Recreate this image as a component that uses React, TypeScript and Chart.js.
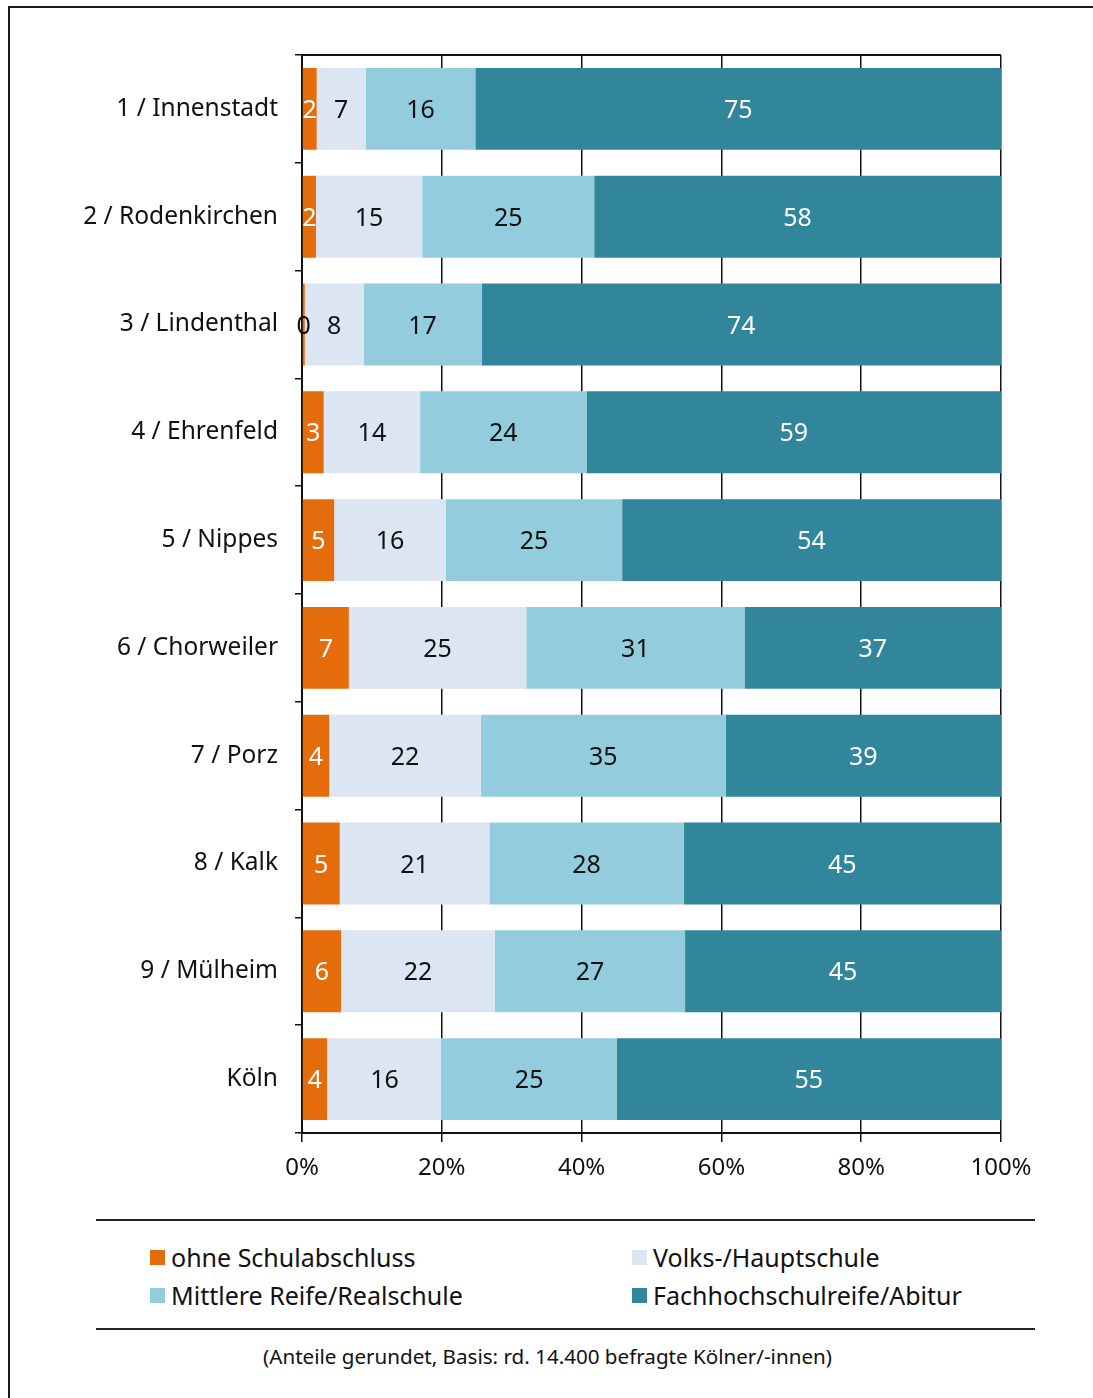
import React, { useEffect, useRef } from "react";
import { Chart, registerables } from "chart.js";
Chart.register(...registerables);

const categories = [
  "1 / Innenstadt",
  "2 / Rodenkirchen",
  "3 / Lindenthal",
  "4 / Ehrenfeld",
  "5 / Nippes",
  "6 / Chorweiler",
  "7 / Porz",
  "8 / Kalk",
  "9 / Mülheim",
  "Köln",
];
const seriesNames = [
  "ohne Schulabschluss",
  "Volks-/Hauptschule",
  "Mittlere Reife/Realschule",
  "Fachhochschulreife/Abitur",
];
const ohne = [2.1, 2.0, 0.4, 3.1, 4.6, 6.7, 3.9, 5.4, 5.6, 3.6];
const volks = [7.0, 15.2, 8.4, 13.8, 16.0, 25.4, 21.7, 21.4, 22.0, 16.4];
const mittlere = [15.7, 24.6, 16.9, 23.8, 25.2, 31.2, 35.0, 27.8, 27.2, 25.0];
const fach = [75.2, 58.2, 74.3, 59.3, 54.2, 36.7, 39.4, 45.4, 45.2, 55.0];
const xTicks = [0, 20, 40, 60, 80, 100];

const colors = ["#E46C0A", "#DCE6F2", "#93CDDD", "#31869B"];
const labelColors = ["#ffffff", "#111111", "#111111", "#ffffff"];
const FONT = "'Noto Sans', sans-serif";

const valueLabels = {
  id: "valueLabels",
  afterDatasetsDraw(chart: any) {
    const ctx = chart.ctx;
    ctx.save();
    ctx.font = `25px ${FONT}`;
    ctx.textAlign = "center";
    ctx.textBaseline = "middle";
    chart.data.datasets.forEach((ds: any, di: number) => {
      const meta = chart.getDatasetMeta(di);
      meta.data.forEach((bar: any, i: number) => {
        const v = ds.data[i];
        const x = (bar.x + bar.base) / 2;
        ctx.fillStyle = v < 1 ? "#111111" : labelColors[di];
        ctx.fillText(String(Math.round(v)), x, bar.y + 2);
      });
    });
    const a = chart.chartArea;
    ctx.strokeStyle = "#111";
    ctx.lineWidth = 2;
    ctx.beginPath();
    ctx.moveTo(a.left, a.top);
    ctx.lineTo(a.right, a.top);
    ctx.stroke();
    ctx.restore();
  },
};

export default function App() {
  const ref = useRef<HTMLCanvasElement | null>(null);
  useEffect(() => {
    if (!ref.current) return;
    const data = [ohne, volks, mittlere, fach];
    const chart = new Chart(ref.current, {
      type: "bar",
      data: {
        labels: categories,
        datasets: data.map((d, i) => ({
          label: seriesNames[i],
          data: d,
          backgroundColor: colors[i],
          borderWidth: 0,
          categoryPercentage: 1,
          barPercentage: 0.76,
        })),
      },
      options: {
        indexAxis: "y",
        animation: false,
        responsive: false,
        layout: { padding: { top: 55, right: 92, left: 0, bottom: 0 } },
        plugins: { legend: { display: false }, tooltip: { enabled: false } },
        scales: {
          x: {
            stacked: true,
            min: 0,
            max: 100,
            afterBuildTicks: (scale: any) => {
              scale.ticks = xTicks.map((v) => ({ value: v }));
            },
            afterFit: (scale: any) => {
              scale.height = 67;
            },
            ticks: {
              callback: (v: any) => v + "%",
              color: "#111",
              font: { family: FONT, size: 24 },
              padding: 12,
              maxRotation: 0,
            },
            grid: { color: "#111", lineWidth: 1.5, tickLength: 9 },
            border: { color: "#111", width: 2 },
          },
          y: {
            stacked: true,
            afterFit: (scale: any) => {
              scale.width = 302;
            },
            ticks: {
              color: "#111",
              font: { family: FONT, size: 24.5 },
              padding: 17,
            },
            grid: {
              drawOnChartArea: false,
              offset: true,
              tickLength: 7,
              color: "#111",
              lineWidth: 1.5,
            },
            border: { color: "#111", width: 2 },
          },
        },
      },
      plugins: [valueLabels],
    } as any);
    return () => chart.destroy();
  }, []);

  const legendItem = (i: number, left: number, top: number) => (
    <div
      key={i}
      style={{
        position: "absolute",
        left,
        top,
        display: "flex",
        alignItems: "center",
        fontFamily: FONT,
        fontSize: 25,
        color: "#111",
        whiteSpace: "nowrap",
        lineHeight: "30px",
      }}
    >
      <span
        style={{
          display: "inline-block",
          width: 15,
          height: 15,
          background: colors[i],
          marginRight: 6,
        }}
      />
      {seriesNames[i]}
    </div>
  );

  return (
    <div
      style={{
        position: "absolute",
        left: 0,
        top: 0,
        width: 1093,
        height: 1398,
        overflow: "hidden",
        background: "#fff",
      }}
    >
      <div
        style={{
          position: "absolute",
          left: 8,
          top: 6,
          width: 1200,
          height: 1500,
          borderTop: "2px solid #1a1a1a",
          borderLeft: "2px solid #1a1a1a",
        }}
      />
      <canvas
        ref={ref}
        width={1093}
        height={1200}
        style={{ position: "absolute", left: 0, top: 0, width: 1093, height: 1200 }}
      />
      <div style={{ position: "absolute", left: 96, top: 1219, width: 939, height: 2, background: "#222" }} />
      {legendItem(0, 150, 1242)}
      {legendItem(1, 632, 1242)}
      {legendItem(2, 150, 1280)}
      {legendItem(3, 632, 1280)}
      <div style={{ position: "absolute", left: 96, top: 1328, width: 939, height: 2, background: "#222" }} />
      <div
        style={{
          position: "absolute",
          left: 78,
          width: 939,
          top: 1342,
          textAlign: "center",
          fontFamily: FONT,
          fontSize: 20.6,
          color: "#111",
          lineHeight: "28px",
        }}
      >
        (Anteile gerundet, Basis: rd. 14.400 befragte Kölner/-innen)
      </div>
    </div>
  );
}
